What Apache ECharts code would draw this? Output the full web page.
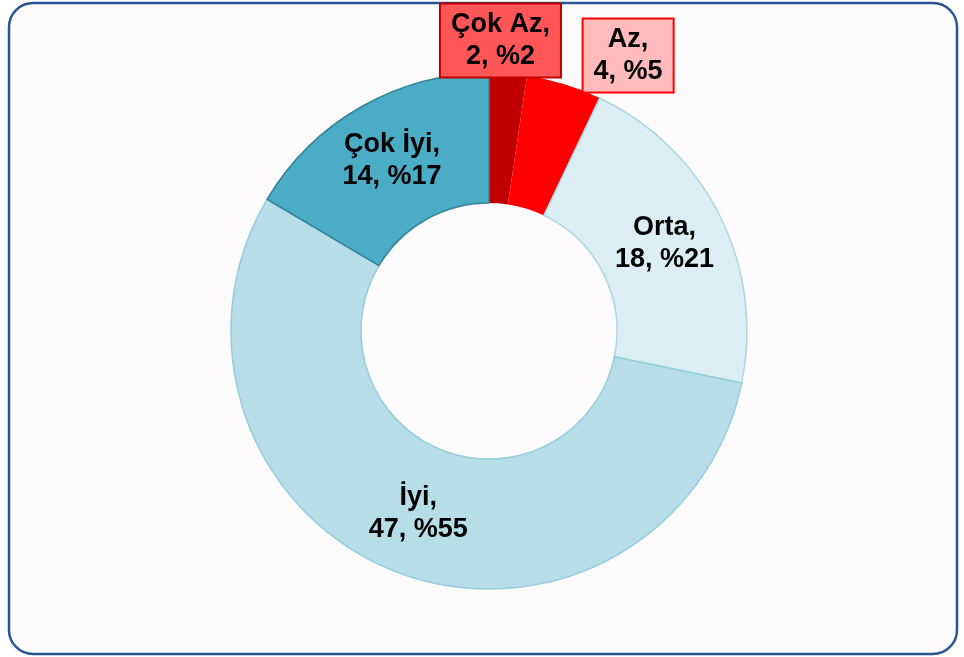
<!DOCTYPE html>
<html>
<head>
<meta charset="utf-8">
<script src="https://cdn.jsdelivr.net/npm/echarts@6/dist/echarts.min.js"></script>
<style>
html,body{margin:0;padding:0;background:#ffffff;}
#main{width:964px;height:657px;}
</style>
</head>
<body>
<div id="main"></div>
<script>
var categories = ['Çok Az', 'Az', 'Orta', 'İyi', 'Çok İyi'];
var values = [2, 4, 18, 47, 14];
var colors = ['#C00000', '#FF0000', '#DAEEF3', '#B7DDE8', '#4BACC6'];
var borderColors = ['#C00000', '#FF0000', '#A9D7E4', '#93CDDD', '#31849B'];

var chart = echarts.init(document.getElementById('main'));

var data = categories.map(function (c, i) {
  var item = {
    name: c,
    value: values[i],
    itemStyle: { color: colors[i], borderColor: borderColors[i], borderWidth: i < 2 ? 0 : 1.5 }
  };
  if (i === 0) {
    item.label = { backgroundColor: '#FF5757', borderColor: '#C00000', borderWidth: 2, padding: [4, 10, 4, 10] };
  } else if (i === 1) {
    item.label = { backgroundColor: '#FFBBBB', borderColor: '#FF0000', borderWidth: 2, padding: [4, 10, 4, 10] };
  }
  return item;
});

chart.setOption({
  animation: false,
  graphic: [{
    type: 'rect',
    z: -10,
    shape: { x: 9, y: 3, width: 948, height: 651, r: 24 },
    style: { fill: '#FDFBFC', stroke: '#2A5592', lineWidth: 2.5 }
  }],
  series: [{
    type: 'pie',
    center: [489, 331],
    radius: [128, 258],
    startAngle: 90,
    clockwise: true,
    avoidLabelOverlap: false,
    percentPrecision: 0,
    label: {
      show: true,
      position: 'inside',
      formatter: '{b},\n{c}, %{d}',
      color: '#000000',
      fontFamily: 'Liberation Sans, Arial, sans-serif',
      fontWeight: 'bold',
      fontSize: 27,
      lineHeight: 32,
      align: 'center'
    },
    labelLine: { show: false },
    emphasis: { disabled: true },
    labelLayout: function (p) {
      if (p.dataIndex === 0) return { dx: -3, dy: -95 };
      if (p.dataIndex === 1) return { dx: 82, dy: -88 };
      return {};
    },
    data: data
  }]
});
</script>
</body>
</html>
